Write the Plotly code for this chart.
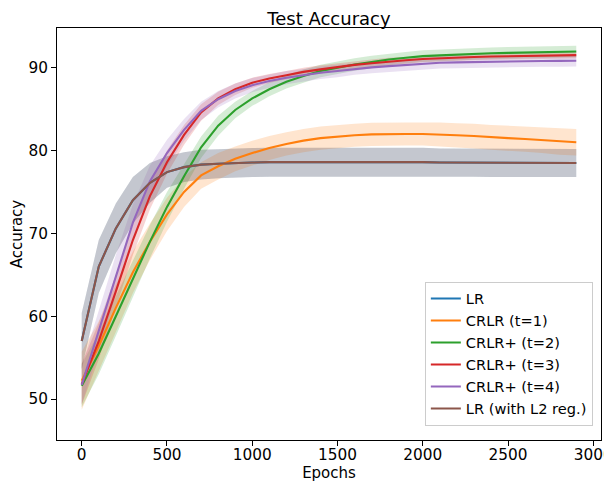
import plotly.graph_objects as go

epochs = list(range(0, 3000, 100))

names = ["LR", "CRLR (t=1)", "CRLR+ (t=2)", "CRLR+ (t=3)", "CRLR+ (t=4)", "LR (with L2 reg.)"]
colors = ["#1f77b4", "#ff7f0e", "#2ca02c", "#d62728", "#9467bd", "#8c564b"]
fills = ["rgba(31,119,180,0.2)", "rgba(255,127,14,0.2)", "rgba(44,160,44,0.2)",
         "rgba(214,39,40,0.2)", "rgba(148,103,189,0.2)", "rgba(140,86,75,0.2)"]

lr_l2 = [57.0, 66.0, 70.6, 74.0, 76.1, 77.4, 78.0, 78.3, 78.4, 78.5,
         78.55, 78.6, 78.6, 78.65, 78.65, 78.65, 78.65, 78.6, 78.6, 78.6,
         78.6, 78.55, 78.55, 78.55, 78.5, 78.5, 78.5, 78.5, 78.5, 78.5]
lr_l2_sd = [3.4, 3.2, 3.0, 2.8, 2.4, 1.9, 1.8, 1.8, 1.75, 1.75,
            1.75, 1.75, 1.75, 1.75, 1.75, 1.75, 1.75, 1.75, 1.75, 1.75,
            1.75, 1.7, 1.7, 1.7, 1.7, 1.7, 1.7, 1.7, 1.7, 1.7]
lr = list(lr_l2)
lr_sd = list(lr_l2_sd)

crlr1 = [52.2, 56.4, 61.0, 65.3, 69.0, 72.3, 75.0, 77.0, 78.1, 79.0,
         79.7, 80.3, 80.8, 81.2, 81.5, 81.7, 81.85, 81.95, 82.0, 82.0,
         82.0, 81.95, 81.85, 81.75, 81.6, 81.5, 81.4, 81.25, 81.1, 81.0]
crlr1_sd = [3.5, 3.0, 2.8, 2.5, 2.2, 2.0, 1.8, 1.6, 1.6, 1.5,
            1.5, 1.45, 1.4, 1.4, 1.4, 1.4, 1.4, 1.4, 1.4, 1.4,
            1.4, 1.45, 1.45, 1.5, 1.5, 1.5, 1.55, 1.55, 1.6, 1.6]

crlr2 = [51.6, 55.5, 60.0, 64.5, 69.0, 73.2, 76.9, 80.4, 83.0, 84.9,
         86.3, 87.4, 88.3, 89.0, 89.6, 90.0, 90.4, 90.7, 91.0, 91.2,
         91.4, 91.5, 91.6, 91.7, 91.75, 91.8, 91.85, 91.9, 91.93, 91.96]
crlr2_sd = [2.6, 2.5, 2.4, 2.2, 2.0, 1.8, 1.5, 1.3, 1.2, 1.0,
            0.9, 0.85, 0.8, 0.8, 0.75, 0.75, 0.75, 0.75, 0.7, 0.7,
            0.7, 0.7, 0.7, 0.7, 0.7, 0.7, 0.7, 0.7, 0.7, 0.7]

crlr3 = [51.8, 57.0, 63.0, 69.2, 74.5, 78.6, 81.9, 84.6, 86.3, 87.4,
         88.2, 88.7, 89.1, 89.5, 89.8, 90.1, 90.35, 90.55, 90.75, 90.9,
         91.05, 91.15, 91.25, 91.3, 91.35, 91.4, 91.45, 91.48, 91.5, 91.53]
crlr3_sd = [2.5, 2.2, 2.0, 1.8, 1.6, 1.4, 1.2, 1.0, 0.8, 0.7,
            0.6, 0.55, 0.5, 0.5, 0.5, 0.45, 0.45, 0.45, 0.45, 0.4,
            0.4, 0.4, 0.4, 0.4, 0.4, 0.4, 0.4, 0.4, 0.4, 0.4]

crlr4 = [51.7, 58.2, 65.0, 71.3, 76.3, 79.7, 82.5, 84.8, 86.2, 87.2,
         87.9, 88.4, 88.8, 89.1, 89.4, 89.6, 89.85, 90.05, 90.2, 90.35,
         90.5, 90.6, 90.65, 90.7, 90.75, 90.78, 90.8, 90.82, 90.83, 90.84]
crlr4_sd = [2.3, 2.5, 2.4, 2.2, 1.9, 1.6, 1.3, 1.1, 1.0, 0.9,
            0.85, 0.8, 0.8, 0.75, 0.75, 0.75, 0.7, 0.7, 0.7, 0.7,
            0.7, 0.7, 0.7, 0.7, 0.7, 0.7, 0.7, 0.7, 0.7, 0.7]

means = [lr, crlr1, crlr2, crlr3, crlr4, lr_l2]
sds = [lr_sd, crlr1_sd, crlr2_sd, crlr3_sd, crlr4_sd, lr_l2_sd]

fig = go.Figure()

# bands first (below all lines, as in matplotlib)
for m, s, fc in zip(means, sds, fills):
    upper = [a + b for a, b in zip(m, s)]
    lower = [a - b for a, b in zip(m, s)]
    fig.add_trace(go.Scatter(x=epochs, y=upper, mode="lines", line=dict(width=0),
                             showlegend=False, hoverinfo="skip"))
    fig.add_trace(go.Scatter(x=epochs, y=lower, mode="lines", line=dict(width=0),
                             fill="tonexty", fillcolor=fc, showlegend=False, hoverinfo="skip"))

for m, n, c in zip(means, names, colors):
    fig.add_trace(go.Scatter(x=epochs, y=m, mode="lines", name=n,
                             line=dict(color=c, width=2.1)))

axis_common = dict(showline=True, mirror=True, linecolor="black", linewidth=1.1,
                   ticks="outside", ticklen=5, tickwidth=1.1, tickcolor="black",
                   showgrid=False, zeroline=False, automargin=False,
                   ticklabeloverflow="allow",
                   tickfont=dict(size=15.3, color="black"))

# the page body adds an 8px offset; figure size/margins compensate for it
fig.update_layout(
    width=612, height=479,
    margin=dict(l=49, r=18.5, t=20, b=47),
    paper_bgcolor="white", plot_bgcolor="white",
    font=dict(family="DejaVu Sans", size=14.4, color="black"),
    title=dict(text="Test Accuracy", x=0.5, xref="paper", xanchor="center",
               y=1 - 10.5 / 479, yref="container", yanchor="middle",
               font=dict(size=18, color="black")),
    xaxis=dict(range=[-145, 3045], tickvals=[0, 500, 1000, 1500, 2000, 2500, 3000],
               ticklabelstandoff=-4,
               title=dict(text="Epochs", standoff=2, font=dict(size=15)), **axis_common),
    yaxis=dict(range=[45.05, 94.8], tickvals=[50, 60, 70, 80, 90],
               title=dict(text="Accuracy", standoff=6, font=dict(size=15)), **axis_common),
    legend=dict(x=0.985, xanchor="right", y=0.035, yanchor="bottom",
                traceorder="normal",
                bgcolor="rgba(255,255,255,0.8)", bordercolor="#cccccc", borderwidth=1,
                font=dict(size=14.6), tracegroupgap=0),
    showlegend=True,
)

fig.write_html("out.html")
